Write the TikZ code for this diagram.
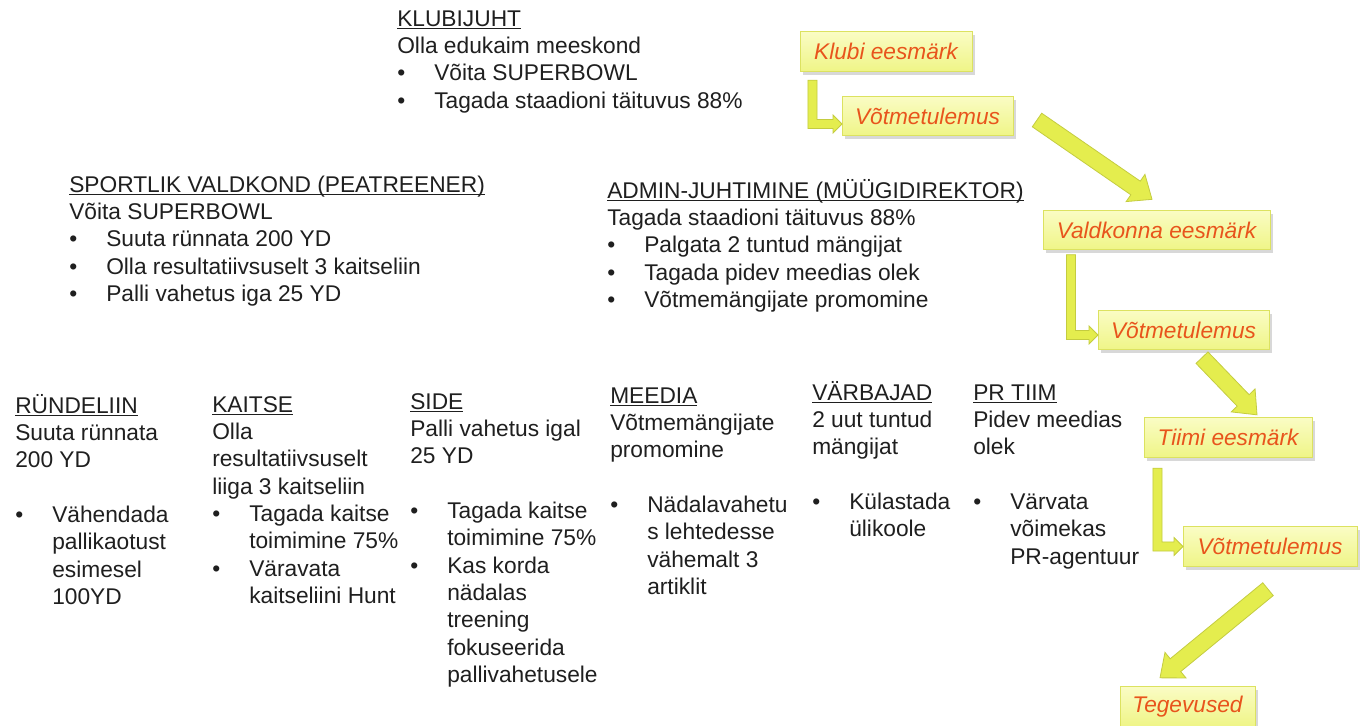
\documentclass[tikz,border=0pt]{standalone}
\usepackage{fontspec}
\setmainfont{Liberation Sans}
\usetikzlibrary{calc,shadows}

% bullet indent, underlined headings, bullet / continuation lines
\newlength\bulind \setlength\bulind{27.75pt}
\newcommand\hd[1]{\setbox0\hbox{#1}\rlap{\rule[-2.4pt]{\wd0}{0.9pt}}\box0}
\newcommand\bi[1]{\makebox[\bulind][l]{•}#1}
\newcommand\ci[1]{\hspace*{\bulind}#1}
\newcommand\blk[1]{\begin{tabular}[t]{@{}l@{}}#1\end{tabular}}

\definecolor{goaltext}{RGB}{232,84,28}
\definecolor{goaltop}{RGB}{250,252,196}
\definecolor{goalbot}{RGB}{239,245,135}
\definecolor{goalline}{RGB}{220,226,96}
\definecolor{arrowfill}{RGB}{228,237,78}
\definecolor{arrowline}{RGB}{196,204,64}

\tikzset{
  txt/.style={anchor=base west, inner sep=0pt, text=black!88,
    font=\fontsize{17.05pt}{20.5pt}\selectfont},
  goalbox/.style={draw=goalline, line width=0.6pt, outer sep=0pt,
    top color=goaltop, bottom color=goalbot,
    font=\fontsize{17pt}{20pt}\selectfont\itshape, text=goaltext,
    minimum height=29.5pt, inner xsep=2pt, align=center,
    drop shadow={opacity=0.3, shadow xshift=2pt, shadow yshift=-2.5pt}},
  fatarrow/.style={fill=arrowfill, draw=arrowline, line width=0.6pt, line join=miter},
}

% broad arrow from #1 to #2
\newcommand\fat[2]{%
  \coordinate (#1-hb) at ($(#2)!15pt!(#1)$);
  \filldraw[fatarrow] ($(#1)!6.2pt!90:(#2)$) -- ($(#1-hb)!6.2pt!90:(#2)$)
    -- ($(#1-hb)!12.4pt!90:(#2)$) -- (#2) -- ($(#1-hb)!12.4pt!-90:(#2)$)
    -- ($(#1-hb)!6.2pt!-90:(#2)$) -- ($(#1)!6.2pt!-90:(#2)$) -- cycle;}
% L-shaped arrow: down from #1, then right to the tip #2
\newcommand\elbow[2]{%
  \filldraw[fatarrow] let \p1=(#1), \p2=(#2) in
    ({\x1-3.4pt},\y1) -- ({\x1-3.4pt},{\y2-3.4pt}) -- ({\x2-6.75pt},{\y2-3.4pt})
    -- ({\x2-6.75pt},{\y2-6.75pt}) -- (\x2,\y2) -- ({\x2-6.75pt},{\y2+6.75pt})
    -- ({\x2-6.75pt},{\y2+3.4pt}) -- ({\x1+3.4pt},{\y2+3.4pt}) -- ({\x1+3.4pt},\y1) -- cycle;}

\begin{document}
\begin{tikzpicture}[x=0.75pt,y=-0.75pt]
\useasboundingbox[fill=white] (0,0) rectangle (1370,725);

% ---- goal boxes ----
\node[goalbox, minimum width=129pt]    (klubi) at (886,51.5)   {Klubi eesmärk};
\node[goalbox, minimum width=128.25pt] (v1)    at (927.5,116)  {Võtmetulemus};
\node[goalbox, minimum width=170.25pt] (vald)  at (1156.5,230) {Valdkonna eesmärk};
\node[goalbox, minimum width=128.25pt] (v2)    at (1183.5,330) {Võtmetulemus};
\node[goalbox, minimum width=126pt]    (tiimi) at (1228,437.5) {Tiimi eesmärk};
\node[goalbox, minimum width=130.5pt]  (v3)    at (1270,546.5) {Võtmetulemus};
\node[goalbox, minimum width=101.25pt] (teg)   at (1187.5,706.5) {Tegevused};

% ---- connectors ----
\coordinate (e1s) at ($(klubi.south west)+(12.5,9)$);
\coordinate (e1t) at ($(v1.west)+(0,8)$);
\elbow{e1s}{e1t}
\coordinate (e2s) at ($(vald.south west)+(28,5)$);
\coordinate (e2t) at ($(v2.west)+(0,5)$);
\elbow{e2s}{e2t}
\coordinate (e3s) at ($(tiimi.south west)+(13.5,11)$);
\coordinate (e3t) at ($(v3.west)+(0,0)$);
\elbow{e3s}{e3t}

\coordinate (fa) at ($(v1.east)+(24,4)$);
\coordinate (fat) at ($(vald.north)+(-4.5,-11)$);
\fat{fa}{fat}
\coordinate (fb) at ($(v2.south)+(18.5,8)$);
\coordinate (fbt) at ($(tiimi.north)+(29,-3)$);
\fat{fb}{fbt}
\coordinate (fc) at ($(v3.south)+(-2,23)$);
\coordinate (fct) at ($(teg.north)+(-27.5,-9)$);
\fat{fc}{fct}

% ---- text blocks ----
\node[txt] (klub) at (397,26) {\blk{\hd{KLUBIJUHT}\\ Olla edukaim meeskond\\
  \bi{Võita SUPERBOWL}\\ \bi{Tagada staadioni täituvus 88\%}}};

\node[txt] (sport) at (69,192) {\blk{\hd{SPORTLIK VALDKOND (PEATREENER)}\\ Võita SUPERBOWL\\
  \bi{Suuta rünnata 200 YD}\\ \bi{Olla resultatiivsuselt 3 kaitseliin}\\
  \bi{Palli vahetus iga 25 YD}}};

\node[txt] (admin) at (607,198) {\blk{\hd{ADMIN-JUHTIMINE (MÜÜGIDIREKTOR)}\\
  Tagada staadioni täituvus 88\%\\ \bi{Palgata 2 tuntud mängijat}\\
  \bi{Tagada pidev meedias olek}\\ \bi{Võtmemängijate promomine}}};

\node[txt] (rund) at (15,413) {\blk{\hd{RÜNDELIIN}\\ Suuta rünnata\\ 200 YD\\ \\
  \bi{Vähendada}\\ \ci{pallikaotust}\\ \ci{esimesel}\\ \ci{100YD}}};

\node[txt] (kaitse) at (212,412) {\blk{\hd{KAITSE}\\ Olla\\ resultatiivsuselt\\
  liiga 3 kaitseliin\\ \bi{Tagada kaitse}\\ \ci{toimimine 75\%}\\
  \bi{Väravata}\\ \ci{kaitseliini Hunt}}};

\node[txt] (side) at (410,409) {\blk{\hd{SIDE}\\ Palli vahetus igal\\ 25 YD\\ \\
  \bi{Tagada kaitse}\\ \ci{toimimine 75\%}\\ \bi{Kas korda}\\ \ci{nädalas}\\
  \ci{treening}\\ \ci{fokuseerida}\\ \ci{pallivahetusele}}};

\node[txt] (meedia) at (610,403) {\blk{\hd{MEEDIA}\\ Võtmemängijate\\ promomine\\ \\
  \bi{Nädalavahetu}\\ \ci{s lehtedesse}\\ \ci{vähemalt 3}\\ \ci{artiklit}}};

\node[txt] (varb) at (812,400) {\blk{\hd{VÄRBAJAD}\\ 2 uut tuntud\\ mängijat\\ \\
  \bi{Külastada}\\ \ci{ülikoole}}};

\node[txt] (prt) at (973,400) {\blk{\hd{PR TIIM}\\ Pidev meedias\\ olek\\ \\
  \bi{Värvata}\\ \ci{võimekas}\\ \ci{PR-agentuur}}};
\end{tikzpicture}
\end{document}
